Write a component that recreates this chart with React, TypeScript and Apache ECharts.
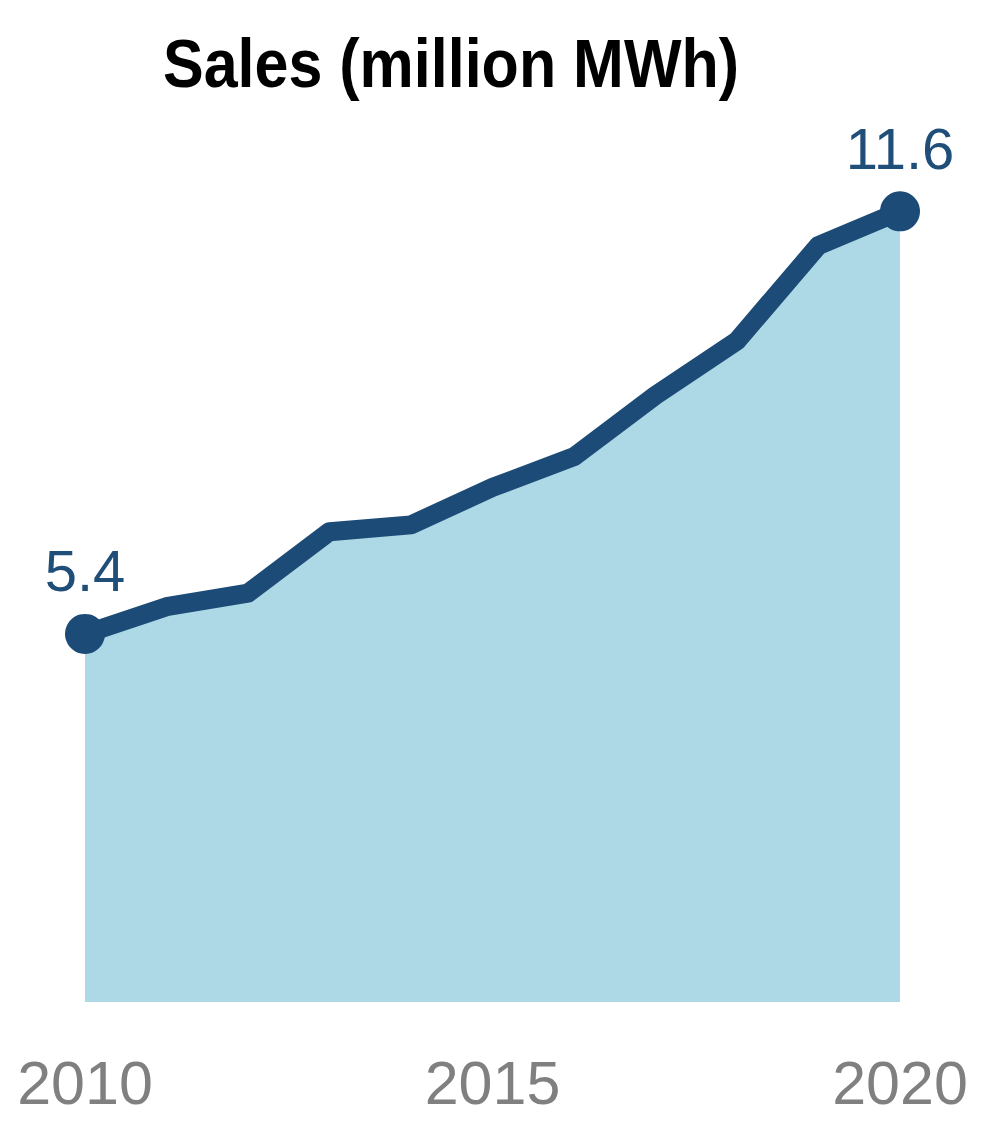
import React, { useEffect, useRef } from "react";
import * as echarts from "echarts";

const years = ["2010", "2011", "2012", "2013", "2014", "2015", "2016", "2017", "2018", "2019", "2020"];
const sales = [5.4, 5.8, 6.0, 6.9, 7.0, 7.55, 8.0, 8.9, 9.7, 11.1, 11.6];
const shownTicks = ["2010", "2015", "2020"];
const titleText = "Sales (million MWh)";

export default function App() {
  const ref = useRef<HTMLDivElement>(null);
  useEffect(() => {
    document.body.style.margin = "0";
    if (!ref.current) return;
    const chart = echarts.init(ref.current, null, { renderer: "svg" });
    const last = sales.length - 1;
    chart.setOption({
      animation: false,
      backgroundColor: "#ffffff",
      graphic: [
        {
          type: "text",
          x: 451,
          y: 63,
          scaleY: 1.12,
          style: {
            text: titleText,
            fontFamily: "Liberation Sans, Arial, sans-serif",
            fontWeight: "bold",
            fontSize: 61,
            fill: "#000000",
            textAlign: "center",
            textVerticalAlign: "middle",
          },
        },
      ],
      grid: { left: 85, right: 100, top: 150, bottom: 142 },
      xAxis: {
        type: "category",
        data: years,
        boundaryGap: false,
        axisLine: { show: false },
        axisTick: { show: false },
        splitLine: { show: false },
        axisLabel: {
          interval: 0,
          formatter: (v: string) => (shownTicks.includes(v) ? v : ""),
          color: "#808080",
          fontSize: 61,
          fontFamily: "Liberation Sans, Arial, sans-serif",
          margin: 50,
        },
      },
      yAxis: {
        type: "value",
        min: 0,
        max: 12.5,
        show: false,
        splitLine: { show: false },
      },
      series: [
        {
          type: "line",
          data: sales.map((v, i) => ({
            value: v,
            symbolSize: i === 0 || i === last ? 40 : 0,
            label: {
              show: i === 0 || i === last,
            },
          })),
          symbol: "circle",
          showSymbol: true,
          lineStyle: { color: "#1b4b76", width: 19, join: "round", cap: "round" },
          itemStyle: { color: "#1b4b76" },
          areaStyle: { color: "#add8e6", opacity: 1 },
          label: {
            position: "top",
            distance: 14,
            formatter: (p: any) => p.value.toFixed(1),
            color: "#1f4e79",
            fontSize: 58,
            fontFamily: "Liberation Sans, Arial, sans-serif",
          },
        },
      ],
    });
    return () => chart.dispose();
  }, []);
  return <div ref={ref} style={{ width: 1000, height: 1144 }} />;
}
